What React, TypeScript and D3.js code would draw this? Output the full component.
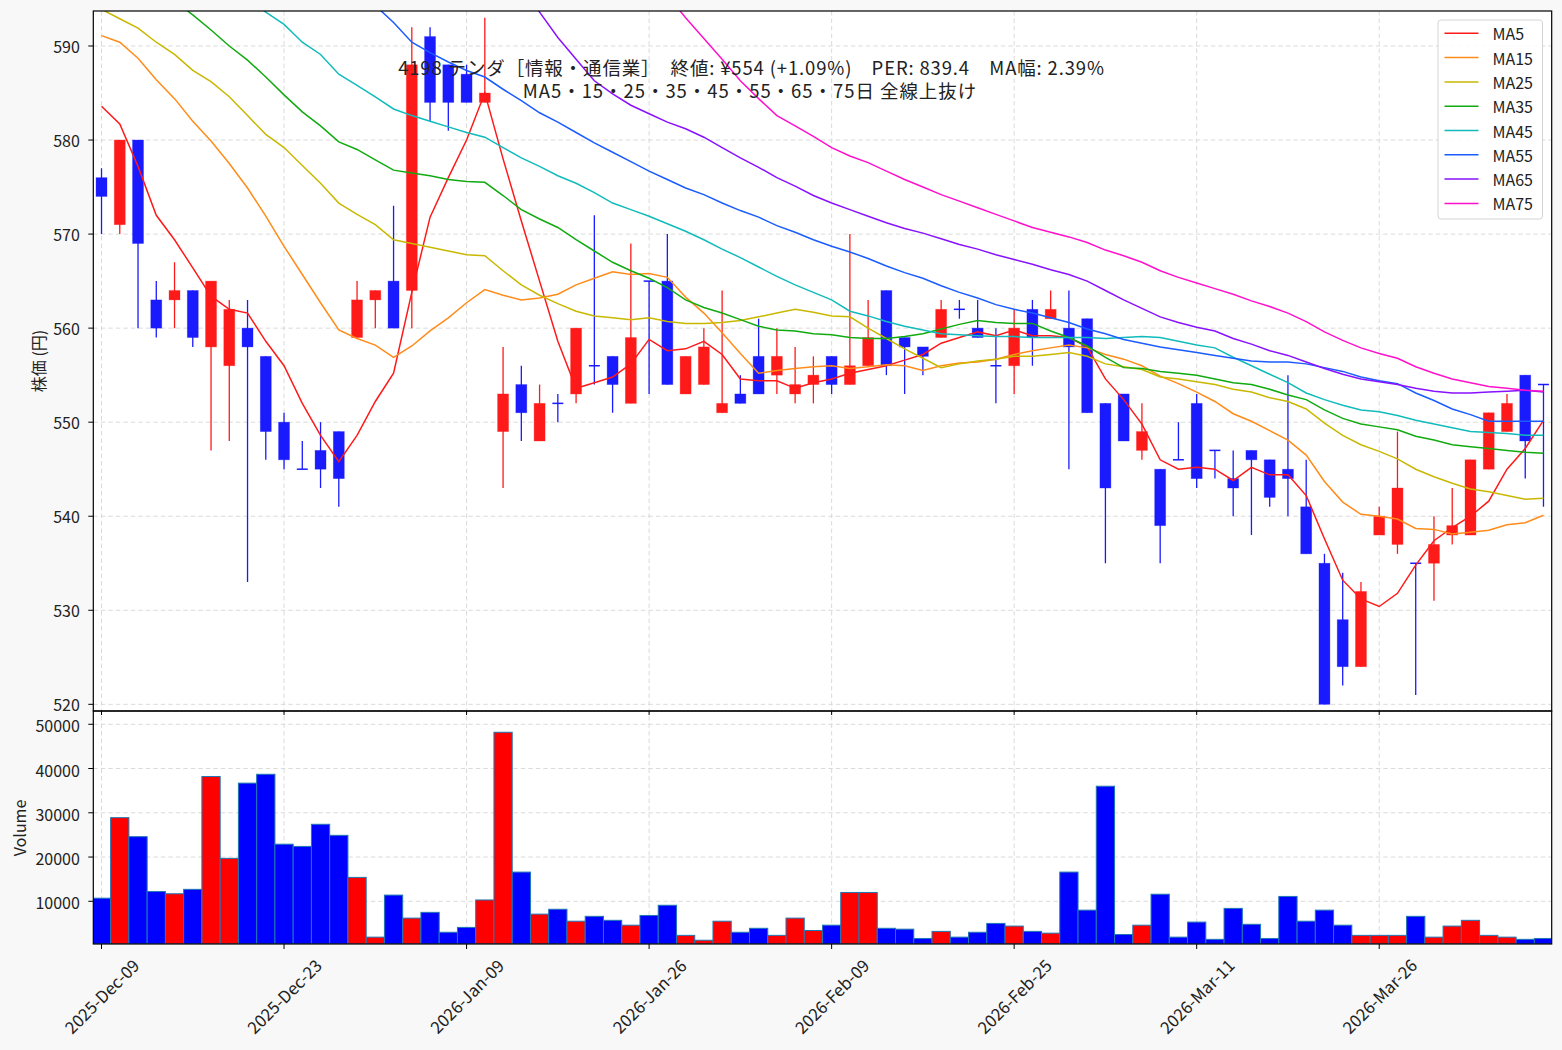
import React from 'react';
import * as d3 from 'd3';

const tickIndex = [0, 10, 20, 30, 40, 50, 60, 70];
const tickLabels = ['2025-Dec-09', '2025-Dec-23', '2026-Jan-09', '2026-Jan-26', '2026-Feb-09', '2026-Feb-25', '2026-Mar-11', '2026-Mar-26'];
const priceTicks = [520, 530, 540, 550, 560, 570, 580, 590];
const volumeTicks = [10000, 20000, 30000, 40000, 50000];

const open = [576, 571, 580, 563, 563, 564, 558, 556, 560, 557, 550, 545, 547, 549, 559, 563, 565, 564, 591, 588, 587, 584, 549, 554, 548, 552, 553, 556, 557, 552, 565, 565, 553, 554, 551, 553, 557, 555, 553, 554, 557, 554, 556, 564, 559, 558, 559, 562, 560, 556, 556, 562, 561, 560, 561, 552, 553, 547, 545, 546, 552, 547, 544, 547, 546, 545, 541, 535, 529, 524, 538, 537, 535, 535, 538, 538, 545, 549, 555, 554];
const high = [577, 580, 580, 565, 567, 564, 565, 563, 563, 557, 551, 548, 550, 549, 565, 564, 573, 592, 592, 588, 588, 593, 558, 556, 554, 553, 560, 572, 557, 569, 565, 570, 557, 560, 564, 555, 561, 560, 558, 557, 557, 570, 563, 564, 559, 558, 563, 563, 563, 560, 562, 563, 564, 564, 561, 552, 553, 552, 545, 550, 553, 547, 547, 547, 546, 555, 546, 536, 534, 533, 541, 549, 535, 540, 543, 546, 551, 553, 555, 554];
const low = [570, 570, 560, 559, 560, 558, 547, 548, 533, 546, 545, 545, 543, 541, 559, 560, 560, 560, 582, 581, 584, 584, 543, 548, 548, 550, 552, 554, 551, 552, 553, 554, 553, 554, 551, 552, 553, 553, 552, 552, 553, 554, 556, 555, 553, 555, 559, 561, 559, 552, 553, 556, 561, 545, 551, 535, 548, 546, 535, 546, 543, 544, 540, 538, 541, 540, 536, 520, 522, 524, 538, 536, 521, 531, 537, 538, 545, 549, 544, 541];
const close = [574, 580, 569, 560, 564, 559, 565, 562, 558, 549, 546, 545, 545, 544, 563, 564, 560, 588, 584, 584, 584, 585, 553, 551, 552, 552, 560, 556, 554, 559, 565, 554, 557, 558, 552, 552, 553, 557, 554, 555, 554, 556, 559, 556, 558, 557, 562, 562, 559, 556, 560, 559, 562, 558, 551, 543, 548, 549, 539, 546, 544, 547, 543, 546, 542, 544, 536, 520, 524, 532, 540, 543, 535, 537, 539, 546, 551, 552, 548, 554];
const volume = [10700, 28900, 24600, 12200, 11700, 12700, 38200, 19700, 36700, 38700, 22900, 22400, 27400, 24900, 15400, 1900, 11400, 6200, 7500, 3000, 4100, 10300, 48200, 16600, 7100, 8200, 5500, 6600, 5700, 4600, 6800, 9100, 2300, 1200, 5500, 3000, 3900, 2300, 6200, 3400, 4600, 12000, 12000, 3900, 3700, 1600, 3200, 1900, 3000, 5000, 4400, 3200, 2800, 16600, 8000, 36000, 2500, 4600, 11600, 1900, 5300, 1400, 8400, 4800, 1600, 11100, 5500, 8000, 4600, 2300, 2300, 2300, 6600, 1900, 4400, 5700, 2300, 1900, 1400, 1600];

const N = null;
const ma5 = [583.6, 581.7, 577.2, 572.0, 569.4, 566.4, 563.4, 562.0, 561.6, 558.6, 556.0, 552.0, 548.6, 545.8, 548.6, 552.2, 555.2, 563.8, 571.8, 576.0, 580.0, 585.0, 578.0, 571.4, 565.0, 558.6, 553.6, 554.2, 554.8, 556.2, 558.8, 557.6, 557.8, 558.6, 557.2, 554.6, 554.4, 554.4, 553.6, 554.2, 554.6, 555.2, 555.6, 556.0, 556.6, 557.2, 558.4, 559.0, 559.6, 559.2, 559.8, 559.2, 559.2, 559.0, 558.0, 554.6, 552.4, 549.8, 546.0, 545.0, 545.2, 545.0, 543.8, 545.2, 544.4, 544.4, 542.2, 537.6, 533.2, 531.2, 530.4, 531.8, 534.8, 537.4, 538.8, 540.0, 541.6, 545.0, 547.2, 550.2];
const ma15 = [591.1, 590.4, 588.7, 586.4, 584.4, 582.0, 579.9, 577.5, 574.9, 571.9, 568.7, 565.7, 562.7, 559.8, 558.9, 558.2, 556.9, 558.1, 559.7, 561.1, 562.7, 564.1, 563.5, 563.0, 563.2, 563.6, 564.6, 565.3, 566.0, 565.7, 565.8, 565.4, 563.3, 561.6, 559.5, 557.3, 555.2, 555.5, 555.7, 555.9, 556.0, 555.7, 555.9, 556.1, 556.0, 555.5, 556.0, 556.3, 556.4, 556.7, 557.2, 557.6, 557.9, 558.2, 557.9, 557.2, 556.7, 556.0, 554.9, 554.1, 553.2, 552.2, 550.9, 550.1, 549.1, 548.1, 546.5, 543.7, 541.5, 540.2, 540.0, 539.7, 538.7, 538.6, 538.1, 538.3, 538.5, 539.1, 539.3, 540.1];
const ma25 = [593.9, 592.9, 591.9, 590.4, 589.1, 587.4, 586.2, 584.6, 582.6, 580.6, 579.2, 577.3, 575.4, 573.3, 572.1, 571.0, 569.4, 569.0, 568.6, 568.2, 567.8, 567.7, 566.1, 564.6, 563.5, 562.6, 561.8, 561.3, 561.1, 560.9, 561.1, 560.7, 560.5, 560.5, 560.6, 560.8, 561.2, 561.6, 562.0, 561.7, 561.3, 561.2, 560.0, 558.9, 557.8, 556.8, 555.8, 556.2, 556.5, 556.7, 557.0, 557.0, 557.2, 557.4, 557.0, 556.2, 555.9, 555.6, 554.8, 554.6, 554.3, 554.0, 553.5, 553.2, 552.6, 552.2, 551.4, 549.9, 548.6, 547.6, 546.9, 546.1, 545.0, 544.2, 543.5, 542.9, 542.6, 542.2, 541.8, 541.9];
const ma35 = [N, N, N, N, 594.8, 593.3, 591.7, 590.0, 588.5, 586.7, 584.8, 583.0, 581.5, 579.8, 579.0, 577.9, 576.8, 576.5, 576.2, 575.8, 575.6, 575.5, 574.1, 572.6, 571.6, 570.7, 569.4, 568.2, 567.0, 566.1, 565.3, 564.3, 563.0, 562.2, 561.6, 560.9, 560.2, 559.8, 559.7, 559.4, 559.3, 559.0, 558.9, 558.9, 559.1, 559.4, 559.9, 560.4, 560.8, 560.6, 560.5, 560.5, 559.7, 559.0, 558.1, 556.9, 555.8, 555.7, 555.4, 555.2, 555.0, 554.6, 554.2, 554.0, 553.5, 552.9, 552.4, 551.3, 550.4, 549.8, 549.5, 549.2, 548.5, 548.1, 547.6, 547.4, 547.2, 547.0, 546.8, 546.7];
const ma45 = [N, N, N, N, N, N, N, N, 594.9, 593.6, 592.3, 590.4, 589.1, 587.0, 585.8, 584.6, 583.3, 582.6, 582.0, 581.4, 580.8, 580.3, 579.2, 578.1, 577.2, 576.2, 575.4, 574.4, 573.3, 572.6, 571.9, 571.1, 570.3, 569.4, 568.4, 567.5, 566.5, 565.5, 564.6, 563.8, 563.0, 561.8, 561.3, 560.7, 560.2, 559.8, 559.4, 559.3, 559.2, 559.1, 559.1, 559.0, 559.0, 559.0, 559.0, 558.9, 559.0, 559.1, 559.0, 558.6, 558.2, 557.9, 556.9, 556.0, 555.1, 554.2, 553.1, 552.4, 551.8, 551.3, 551.1, 550.7, 550.2, 549.8, 549.4, 549.0, 548.9, 548.8, 548.6, 548.6];
const ma55 = [N, N, N, N, N, N, N, N, N, N, N, N, N, N, N, 594.3, 592.5, 590.4, 589.3, 588.3, 587.4, 586.7, 585.4, 584.2, 582.9, 581.9, 580.8, 579.7, 578.7, 577.7, 576.7, 575.8, 574.9, 574.2, 573.3, 572.5, 571.8, 570.9, 570.2, 569.4, 568.7, 568.1, 567.4, 566.6, 565.9, 565.3, 564.5, 563.8, 563.2, 562.5, 562.0, 561.6, 561.1, 560.6, 559.9, 559.4, 558.8, 558.4, 558.0, 557.7, 557.4, 557.1, 556.8, 556.5, 556.4, 556.4, 556.2, 555.8, 555.4, 554.8, 554.4, 554.1, 553.1, 552.3, 551.4, 550.8, 550.1, 550.1, 550.1, 550.1];
const ma65 = [N, N, N, N, N, N, N, N, N, N, N, N, N, N, N, N, N, N, N, N, N, N, N, 596.3, 593.6, 590.9, 588.6, 586.3, 584.9, 583.7, 582.8, 581.9, 581.2, 580.3, 579.2, 578.1, 577.1, 576.0, 575.1, 574.1, 573.3, 572.6, 571.9, 571.2, 570.6, 570.1, 569.5, 568.9, 568.4, 567.8, 567.3, 566.8, 566.2, 565.7, 565.0, 564.0, 563.0, 562.1, 561.2, 560.6, 560.1, 559.7, 558.9, 558.3, 557.6, 557.1, 556.4, 555.7, 555.1, 554.6, 554.3, 554.0, 553.6, 553.3, 553.1, 553.1, 553.2, 553.3, 553.4, 553.2];
const ma75 = [N, N, N, N, N, N, N, N, N, N, N, N, N, N, N, N, N, N, N, N, N, N, N, N, N, N, N, N, N, N, N, 595.4, 593.0, 590.8, 588.6, 586.3, 584.4, 582.6, 581.5, 580.4, 579.2, 578.3, 577.6, 576.7, 575.8, 575.0, 574.2, 573.5, 572.8, 572.1, 571.4, 570.7, 570.2, 569.7, 569.1, 568.3, 567.7, 567.0, 566.1, 565.4, 564.8, 564.2, 563.6, 562.9, 562.3, 561.6, 560.7, 559.6, 558.7, 557.9, 557.3, 556.8, 555.9, 555.2, 554.6, 554.2, 553.8, 553.6, 553.4, 553.3];

const maNames = ['MA5', 'MA15', 'MA25', 'MA35', 'MA45', 'MA55', 'MA65', 'MA75'];
const maSeries = [ma5, ma15, ma25, ma35, ma45, ma55, ma65, ma75];
const maColors = ['#ff1a1a', '#ff8c1a', '#c9b800', '#11aa11', '#11bbbb', '#1a5cff', '#8811ff', '#ff11cc'];

const titleLine1 = '4198 テンダ［情報・通信業］　終値: ¥554 (+1.09%)　PER: 839.4　MA幅: 2.39%';
const titleLine2 = 'MA5・15・25・35・45・55・65・75日 全線上抜け';

const FONT = '"Noto Sans CJK JP", "Noto Sans", sans-serif';
const UP = '#ff1a1a';
const DOWN = '#1a1aff';

export default function App() {
  const L = 93.3, R = 1551.7, PT = 11, PB = 711, VB = 944;
  const x = d3.scaleLinear().domain([-0.45, 79.45]).range([L, R]);
  const y = d3.scaleLinear().domain([519.29, 593.72]).range([PB, PT]);
  const yv = d3.scaleLinear().domain([350, 53000]).range([VB, PB]);
  const step = x(1) - x(0);
  const bw = step * 0.6;
  const idx = d3.range(close.length);

  const lineGen = (arr: (number | null)[]) =>
    d3.line<number>()
      .defined((i) => arr[i] != null)
      .x((i) => x(i))
      .y((i) => y(arr[i] as number))(idx) || '';

  const grid = { stroke: '#d6d6d6', strokeWidth: 0.9, strokeDasharray: '4.5,3' };
  const fs = 16;

  return (
    <svg width={1562} height={1050} style={{ position: 'absolute', left: 0, top: 0, background: '#f8f8f8' }} fontFamily={FONT}>
      <defs>
        <clipPath id="pclip"><rect x={L} y={PT} width={R - L} height={PB - PT} /></clipPath>
        <clipPath id="vclip"><rect x={L} y={PB} width={R - L} height={VB - PB} /></clipPath>
      </defs>
      <rect x={0} y={0} width={1562} height={1050} fill="#f8f8f8" />
      <rect x={L} y={PT} width={R - L} height={VB - PT} fill="#ffffff" />

      {/* grid */}
      {priceTicks.map((t) => <line key={'gp' + t} x1={L} x2={R} y1={y(t)} y2={y(t)} {...grid} />)}
      {volumeTicks.map((t) => <line key={'gv' + t} x1={L} x2={R} y1={yv(t)} y2={yv(t)} {...grid} />)}
      {tickIndex.map((t) => <line key={'gx' + t} x1={x(t)} x2={x(t)} y1={PT} y2={VB} {...grid} />)}

      {/* candles */}
      <g clipPath="url(#pclip)">
        {idx.map((i) => {
          const up = close[i] > open[i];
          const col = up ? UP : DOWN;
          const cx = x(i);
          const top = y(Math.max(open[i], close[i]));
          const bot = y(Math.min(open[i], close[i]));
          return (
            <g key={'c' + i}>
              <line x1={cx} x2={cx} y1={y(high[i])} y2={y(low[i])} stroke={col} strokeWidth={1.3} />
              {open[i] === close[i]
                ? <line x1={cx - bw / 2} x2={cx + bw / 2} y1={top} y2={top} stroke={col} strokeWidth={1.5} />
                : <rect x={cx - bw / 2} y={top} width={bw} height={bot - top} fill={col} stroke={col} strokeOpacity={0.4} strokeWidth={0.8} />}
            </g>
          );
        })}
        {maSeries.map((s, k) => (
          <path key={'ma' + k} d={lineGen(s)} fill="none" stroke={maColors[k]} strokeWidth={1.5} />
        ))}
      </g>

      {/* title */}
      <text x={751.5} y={67} textAnchor="middle" dominantBaseline="central" fontSize={18.5} letterSpacing={0.85} fill="#222">{titleLine1}</text>
      <text x={750} y={90} textAnchor="middle" dominantBaseline="central" fontSize={18.5} letterSpacing={0.95} fill="#222">{titleLine2}</text>

      {/* volume */}
      <g clipPath="url(#vclip)">
        {idx.map((i) => (
          <rect key={'v' + i} x={x(i) - step / 2} y={yv(volume[i])} width={step} height={VB - yv(volume[i])}
            fill={close[i] > open[i] ? '#ff0000' : '#0000ff'} stroke="#1f77b4" strokeWidth={1} />
        ))}
      </g>

      {/* legend */}
      <g>
        <rect x={1438} y={20} width={104.5} height={199} rx={3} fill="#ffffff" fillOpacity={0.85} stroke="#d4d4d4" strokeWidth={1} />
        {maNames.map((n, k) => {
          const ly = 33.3 + k * 24.3;
          return (
            <g key={'lg' + k}>
              <line x1={1444.5} x2={1478.5} y1={ly} y2={ly} stroke={maColors[k]} strokeWidth={1.5} />
              <text x={1492.5} y={ly} dominantBaseline="central" fontSize={fs} fill="#222">{n}</text>
            </g>
          );
        })}
      </g>

      {/* spines */}
      <rect x={L} y={PT} width={R - L} height={PB - PT} fill="none" stroke="#000" strokeWidth={1.2} />
      <rect x={L} y={PB} width={R - L} height={VB - PB} fill="none" stroke="#000" strokeWidth={1.2} />

      {/* price axis */}
      {priceTicks.map((t) => (
        <g key={'pt' + t}>
          <line x1={L - 5} x2={L} y1={y(t)} y2={y(t)} stroke="#000" strokeWidth={1} />
          <text x={L - 13.5} y={y(t)} textAnchor="end" dominantBaseline="central" fontSize={fs} fill="#222">{t}</text>
        </g>
      ))}
      {volumeTicks.map((t) => (
        <g key={'vt' + t}>
          <line x1={L - 5} x2={L} y1={yv(t)} y2={yv(t)} stroke="#000" strokeWidth={1} />
          <text x={L - 13.5} y={yv(t) + 1} textAnchor="end" dominantBaseline="central" fontSize={fs} fill="#222">{t}</text>
        </g>
      ))}
      {tickIndex.map((t, k) => (
        <g key={'xt' + t}>
          <line x1={x(t)} x2={x(t)} y1={VB} y2={VB + 5} stroke="#000" strokeWidth={1} />
          <line x1={x(t)} x2={x(t)} y1={PB} y2={PB + 4} stroke="#000" strokeWidth={1} />
          <text transform={`translate(${x(t)},${996}) rotate(-45)`} textAnchor="middle" dominantBaseline="central" fontSize={16.8} fill="#222">{tickLabels[k]}</text>
        </g>
      ))}
      <text transform="translate(38,361) rotate(-90)" textAnchor="middle" dominantBaseline="central" fontSize={fs} fill="#222">株価 (円)</text>
      <text transform="translate(19,828) rotate(-90)" textAnchor="middle" dominantBaseline="central" fontSize={fs} fill="#222">Volume</text>
    </svg>
  );
}
